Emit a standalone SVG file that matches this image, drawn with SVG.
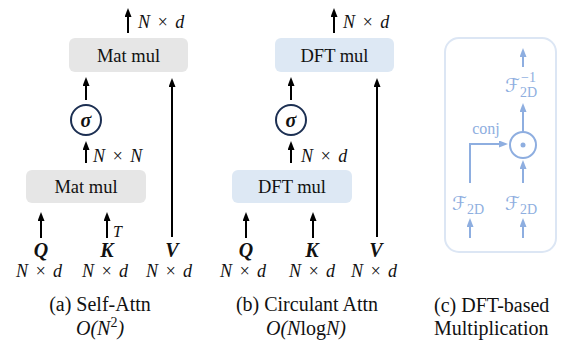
<svg xmlns="http://www.w3.org/2000/svg" width="562" height="343" viewBox="0 0 562 343" font-family="Liberation Serif, serif">
<defs>
<marker id="ah" viewBox="0 0 9 7" markerWidth="9" markerHeight="7" refX="3" refY="3.5" orient="auto" markerUnits="userSpaceOnUse"><path d="M0,0 L9,3.5 L0,7 z" fill="#000"/></marker>
<marker id="ahb" viewBox="0 0 9 7" markerWidth="9" markerHeight="7" refX="3" refY="3.5" orient="auto" markerUnits="userSpaceOnUse"><path d="M0,0 L9,3.5 L0,7 z" fill="#8eaee0"/></marker>
<style>
text{font-family:'Liberation Serif','Times New Roman',serif}
.t{font-size:18.5px;fill:#111}
.cap{font-size:20px;fill:#111}
.m{font-style:italic;font-size:18px;fill:#111;word-spacing:2px}
.b{font-style:italic;font-weight:bold;font-size:20px;fill:#111}
.ln{stroke:#000;stroke-width:2;fill:none;marker-end:url(#ah)}
.lb{stroke:#8eaee0;stroke-width:2;fill:none;marker-end:url(#ahb)}
.gray{fill:#e6e6e6}
.blue{fill:#dde8f4}
.sig{fill:#fff;stroke:#1c2f52;stroke-width:2}
text.fc{font-family:'DejaVu Sans',sans-serif;fill:#8eaee0}
.fs{fill:#8eaee0}
</style>
</defs>

<!-- Panel (a) -->
<g id="a-matmul-top"><rect class="gray" x="69" y="38" width="119" height="34" rx="6"/><text class="t" x="128.5" y="61.5" text-anchor="middle">Mat mul</text></g>
<g id="a-sigma"><circle class="sig" cx="86" cy="120" r="15"/><text class="b" x="86" y="126.5" text-anchor="middle">σ</text></g>
<g id="a-matmul-bottom"><rect class="gray" x="26" y="170" width="120" height="33" rx="6"/><text class="t" x="86" y="193" text-anchor="middle">Mat mul</text></g>
<g id="a-Q"><text class="b" x="41" y="257" text-anchor="middle">Q</text><text class="m" x="39" y="277" text-anchor="middle">N × d</text></g>
<g id="a-K"><text class="b" x="107" y="257" text-anchor="middle">K</text><text class="m" x="105" y="277" text-anchor="middle">N × d</text></g>
<g id="a-V"><text class="b" x="172" y="257" text-anchor="middle">V</text><text class="m" x="169" y="277" text-anchor="middle">N × d</text></g>
<g id="a-caption"><text class="cap" x="100" y="311" text-anchor="middle">(a) Self-Attn</text><text class="m" x="100" y="335" text-anchor="middle" style="font-size:20px">O(N<tspan dy="-8" style="font-size:14px;font-style:normal">2</tspan><tspan dy="8">)</tspan></text></g>

<!-- Panel (b) -->
<g id="b-dft-top"><rect class="blue" x="275" y="38" width="119" height="34" rx="6"/><text class="t" x="334.5" y="61.5" text-anchor="middle">DFT mul</text></g>
<g id="b-sigma"><circle class="sig" cx="291" cy="120" r="15"/><text class="b" x="291" y="126.5" text-anchor="middle">σ</text></g>
<g id="b-dft-bottom"><rect class="blue" x="232" y="170" width="120" height="33" rx="6"/><text class="t" x="292" y="193" text-anchor="middle">DFT mul</text></g>
<g id="b-Q"><text class="b" x="246" y="257" text-anchor="middle">Q</text><text class="m" x="243" y="277" text-anchor="middle">N × d</text></g>
<g id="b-K"><text class="b" x="312" y="257" text-anchor="middle">K</text><text class="m" x="312" y="277" text-anchor="middle">N × d</text></g>
<g id="b-V"><text class="b" x="376" y="257" text-anchor="middle">V</text><text class="m" x="374" y="277" text-anchor="middle">N × d</text></g>
<g id="b-caption"><text class="cap" x="307" y="311" text-anchor="middle">(b) Circulant Attn</text><text class="m" x="306" y="335" text-anchor="middle" style="font-size:20px">O(N<tspan style="font-style:normal">log</tspan>N)</text></g>

<!-- Panel (c) -->
<g id="c-box"><rect x="445" y="38" width="111" height="214" rx="14" fill="none" stroke="#dce6f4" stroke-width="2"/></g>
<g id="c-finv"><text class="fc" x="505" y="92" style="font-size:19px">ℱ</text><text class="fs" x="521" y="82" style="font-size:14px">−1</text><text class="fs" x="520" y="97" style="font-size:14px">2D</text></g>
<g id="c-odot"><circle cx="523" cy="145" r="13" fill="none" stroke="#8eaee0" stroke-width="2"/><circle cx="523" cy="145" r="2.5" fill="#8eaee0"/></g>
<g id="c-f-left"><text class="fc" x="452" y="210" style="font-size:19px">ℱ</text><text class="fs" x="467" y="214" style="font-size:14px">2D</text></g>
<g id="c-f-right"><text class="fc" x="505" y="210" style="font-size:19px">ℱ</text><text class="fs" x="520" y="214" style="font-size:14px">2D</text></g>
<g id="c-conj"><text class="fs" x="486" y="134" text-anchor="middle" style="font-size:16px">conj</text></g>
<g id="c-caption"><text class="cap" x="434" y="312">(c) DFT-based</text><text class="cap" x="434" y="335">Multiplication</text></g>

<!-- Connectors -->
<g id="connectors">
<line class="ln" x1="128" y1="33" x2="128" y2="14"/>
<text class="m" x="138" y="28">N × d</text>
<line class="ln" x1="86" y1="100" x2="86" y2="83"/>
<line class="ln" x1="86" y1="163" x2="86" y2="147"/>
<text class="m" x="93" y="162">N × N</text>
<line class="ln" x1="172" y1="237" x2="172" y2="84"/>
<line class="ln" x1="41" y1="238" x2="41" y2="218"/>
<line class="ln" x1="107" y1="238" x2="107" y2="218"/>
<text class="m" x="113" y="237" style="font-size:16px">T</text>

<line class="ln" x1="334" y1="33" x2="334" y2="14"/>
<text class="m" x="343" y="28">N × d</text>
<line class="ln" x1="291" y1="100" x2="291" y2="83"/>
<line class="ln" x1="291" y1="163" x2="291" y2="147"/>
<text class="m" x="301" y="162">N × d</text>
<line class="ln" x1="377" y1="237" x2="377" y2="84"/>
<line class="ln" x1="246" y1="238" x2="246" y2="218"/>
<line class="ln" x1="313" y1="238" x2="313" y2="218"/>

<line class="lb" x1="523" y1="67" x2="523" y2="54"/>
<line class="lb" x1="523" y1="132" x2="523" y2="109"/>
<line class="lb" x1="523" y1="183" x2="523" y2="166"/>
<polyline class="lb" points="470,183 470,144 502,144"/>
<line class="lb" x1="470" y1="238" x2="470" y2="224"/>
<line class="lb" x1="523" y1="238" x2="523" y2="224"/>
</g>
</svg>
